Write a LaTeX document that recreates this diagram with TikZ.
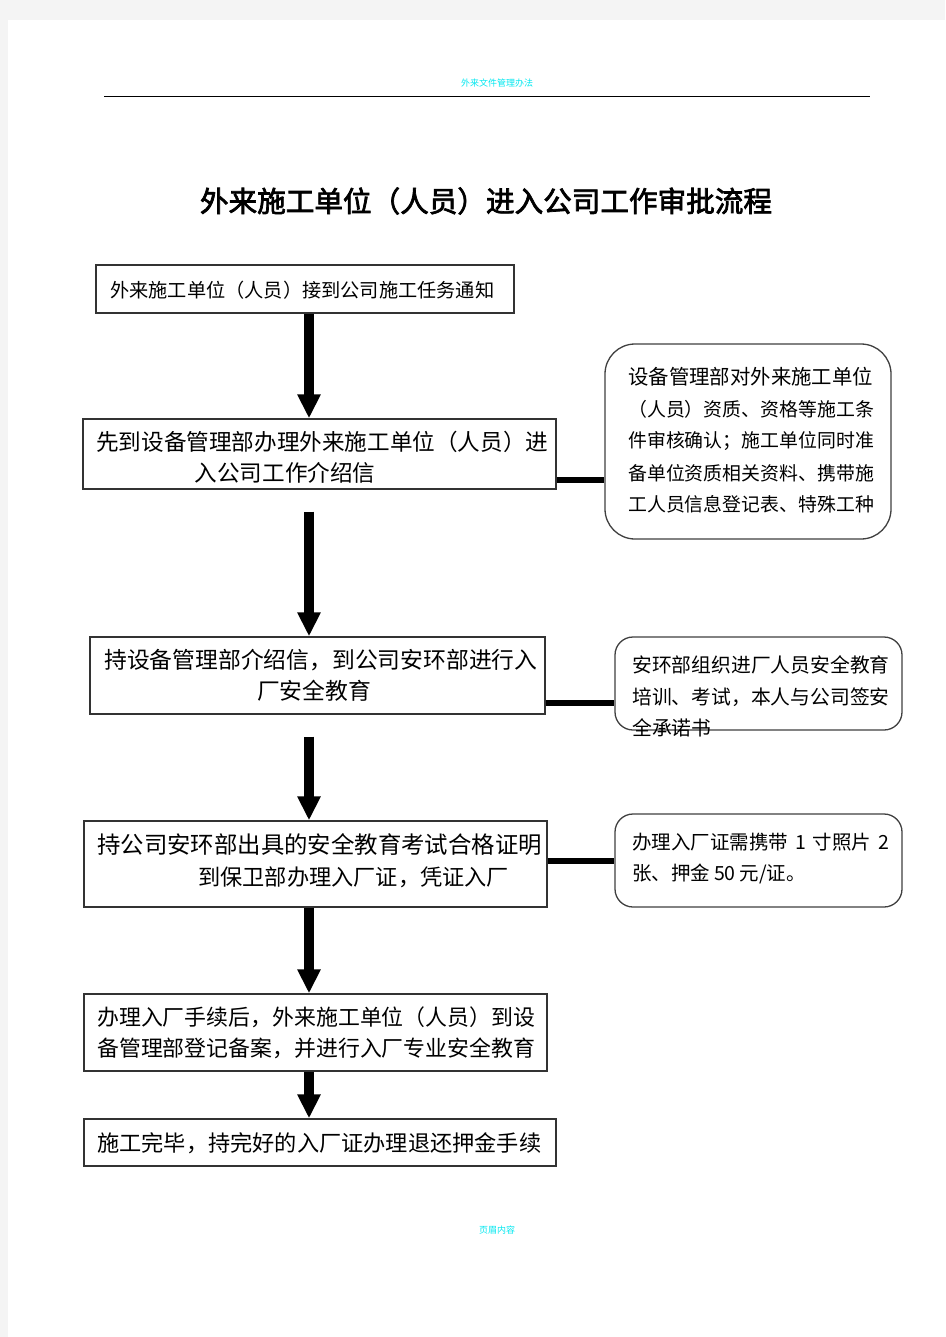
\documentclass[tikz,border=0pt]{standalone}
\usepackage{fontspec}
\newfontfamily\cjk{Noto Sans CJK SC}
\newfontfamily\cjkb[FakeBold=2.5]{Noto Sans CJK SC}
\usetikzlibrary{arrows.meta}
\definecolor{pagegray}{HTML}{F4F4F4}
\definecolor{hdrcyan}{HTML}{00E8F0}
\tikzset{
  mainbox/.style={draw=black!80, line width=1.4pt, rectangle, inner sep=0pt, fill=white},
  sidebox/.style={draw=black!75, line width=1.3pt, rectangle, inner sep=0pt, fill=white},
  txt/.style={inner sep=0pt, anchor=west, text=black},
  flowarrow/.style={line width=10pt, -{Triangle[width=22pt,length=24pt]}},
  linkbar/.style={line width=6pt},
}
\begin{document}
\begin{tikzpicture}[x=1pt,y=-1pt]
\useasboundingbox (0,0) rectangle (945,1337);
\fill[pagegray] (0,0) rectangle (945,1337);
\fill[white] (8,20) rectangle (945,1337);
% header / footer
\node[inner sep=0pt, text=hdrcyan] (hdr) at (497,83) {\cjk\fontsize{9}{9}\selectfont 外来文件管理办法};
\draw[line width=1pt] (104,97) -- (870,97);
\node[inner sep=0pt, text=hdrcyan] (ftr) at (497,1230) {\cjk\fontsize{9}{9}\selectfont 页眉内容};
% title
\node[inner sep=0pt] (title) at (486,201) {\cjkb\fontsize{28.6}{30}\selectfont 外来施工单位（人员）进入公司工作审批流程};
% main boxes
\node[mainbox, minimum width=418pt, minimum height=48pt] (b1) at (305,289) {};
\node[mainbox, minimum width=473pt, minimum height=70pt] (b2) at (319.5,454) {};
\node[mainbox, minimum width=455pt, minimum height=77pt] (b3) at (317.5,675.5) {};
\node[mainbox, minimum width=463pt, minimum height=86pt] (b4) at (315.5,864) {};
\node[mainbox, minimum width=463pt, minimum height=77pt] (b5) at (315.5,1032.5) {};
\node[mainbox, minimum width=472pt, minimum height=47pt] (b6) at (320,1142.5) {};
% side boxes
\node[sidebox, rounded corners=30pt, minimum width=286pt, minimum height=195pt] (s1) at (748,441.5) {};
\node[sidebox, rounded corners=18pt, minimum width=287pt, minimum height=93pt] (s2) at (758.5,683.5) {};
\node[sidebox, rounded corners=18pt, minimum width=287pt, minimum height=93pt] (s3) at (758.5,860.5) {};
% arrows
\coordinate (ax) at (309,0);
\draw[flowarrow] (b1.south -| ax) -- (b2.north -| ax);
\draw[flowarrow] ([yshift=-22pt]b2.south -| ax) -- (b3.north -| ax);
\draw[flowarrow] ([yshift=-22pt]b3.south -| ax) -- (b4.north -| ax);
\draw[flowarrow] (b4.south -| ax) -- (b5.north -| ax);
\draw[flowarrow] (b5.south -| ax) -- (b6.north -| ax);
% link bars
\coordinate (l1) at (0,480);
\coordinate (l2) at (0,703);
\coordinate (l3) at (0,861);
\draw[linkbar] (b2.east |- l1) -- (s1.west |- l1);
\draw[linkbar] (b3.east |- l2) -- (s2.west |- l2);
\draw[linkbar] (b4.east |- l3) -- (s3.west |- l3);
% box texts
\node[txt] (t1) at (110,290) {\cjk\fontsize{19.2}{20}\selectfont 外来施工单位（人员）接到公司施工任务通知};
\node[txt] (t2a) at (96,442) {\cjk\fontsize{22.6}{24}\selectfont 先到设备管理部办理外来施工单位（人员）进};
\node[txt, anchor=center] (t2b) at (285,473) {\cjk\fontsize{22.6}{24}\selectfont 入公司工作介绍信};
\node[txt] (t3a) at (104,660) {\cjk\fontsize{22.8}{24}\selectfont 持设备管理部介绍信，到公司安环部进行入};
\node[txt, anchor=center] (t3b) at (314,691) {\cjk\fontsize{22.8}{24}\selectfont 厂安全教育};
\node[txt] (t4a) at (97,845) {\cjk\fontsize{23.4}{24}\selectfont 持公司安环部出具的安全教育考试合格证明};
\node[txt] (t4b) at (198,877) {\cjk\fontsize{22.2}{24}\selectfont 到保卫部办理入厂证，凭证入厂};
\node[txt] (t5a) at (97,1017) {\cjk\fontsize{21.9}{24}\selectfont 办理入厂手续后，外来施工单位（人员）到设};
\node[txt] (t5b) at (97,1048) {\cjk\fontsize{21.9}{24}\selectfont 备管理部登记备案，并进行入厂专业安全教育};
\node[txt] (t6) at (97,1143) {\cjk\fontsize{22.2}{24}\selectfont 施工完毕，持完好的入厂证办理退还押金手续};
% side texts
\node[txt] (u1) at (628,377) {\cjk\fontsize{20.4}{22}\selectfont 设备管理部对外来施工单位};
\node[txt] (u2) at (628,409) {\cjk\fontsize{18.9}{22}\selectfont （人员）资质、资格等施工条};
\node[txt] (u3) at (628,441) {\cjk\fontsize{18.9}{22}\selectfont 件审核确认；施工单位同时准};
\node[txt] (u4) at (628,473) {\cjk\fontsize{18.9}{22}\selectfont 备单位资质相关资料、携带施};
\node[txt] (u5) at (628,504) {\cjk\fontsize{18.9}{22}\selectfont 工人员信息登记表、特殊工种};
\node[txt] (v1) at (632,665) {\cjk\fontsize{19.8}{22}\selectfont 安环部组织进厂人员安全教育};
\node[txt] (v2) at (632,697) {\cjk\fontsize{19.8}{22}\selectfont 培训、考试，本人与公司签安};
\node[txt] (v3) at (632,728) {\cjk\fontsize{19.8}{22}\selectfont 全承诺书};
\node[txt] (w1) at (632,842) {\cjk\fontsize{19.5}{22}\selectfont 办理入厂证需携带\hspace{0.35em}\textit{1}\hspace{0.35em}寸照片\hspace{0.35em}\textit{2}};
\node[txt] (w2) at (632,874) {\cjk\fontsize{19.5}{22}\selectfont 张、押金\hspace{0.2em}\textit{50}\hspace{0.2em}元/证。};
\end{tikzpicture}
\end{document}
